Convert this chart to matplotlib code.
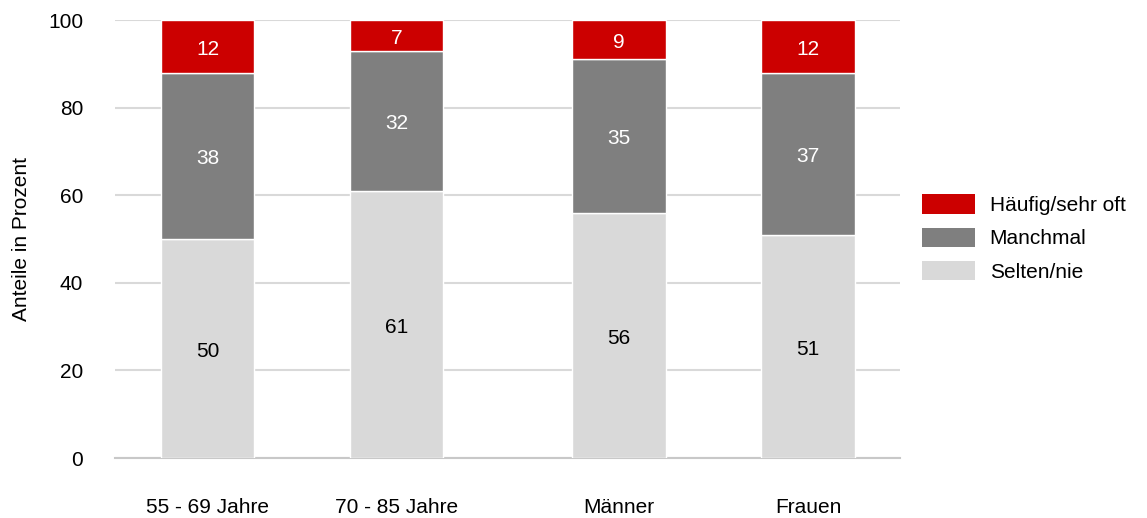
import matplotlib
matplotlib.use("Agg")
import matplotlib.pyplot as plt
from matplotlib.patches import Patch

plt.rcParams['font.family'] = ['Liberation Sans', 'DejaVu Sans']

categories = ["55 - 69 Jahre", "70 - 85 Jahre", "Männer", "Frauen"]
selten = [50, 61, 56, 51]
manchmal = [38, 32, 35, 37]
haeufig = [12, 7, 9, 12]
series_names = ["Häufig/sehr oft", "Manchmal", "Selten/nie"]
yticks = [0, 20, 40, 60, 80, 100]

positions = [0, 1, 2.18, 3.18]
col_sel = "#d9d9d9"
col_man = "#7f7f7f"
col_hae = "#cc0000"
fs = 15

fig = plt.figure(figsize=(11.47, 5.18), dpi=100)
ax = fig.add_axes([115/1147, 1-458/518, (900-115)/1147, (458-20)/518])

w = 0.495
bot2 = selten
bot3 = [a + b for a, b in zip(selten, manchmal)]
layers = [
    (selten, [0] * len(selten), col_sel, "black"),
    (manchmal, bot2, col_man, "white"),
    (haeufig, bot3, col_hae, "white"),
]
for vals, bottoms, col, tcol in layers:
    ax.bar(positions, vals, width=w, bottom=bottoms, color=col,
           edgecolor="white", linewidth=1, zorder=3)
    for x, v, b in zip(positions, vals, bottoms):
        ax.annotate(str(v), (x, b + v / 2), xytext=(0, -2), textcoords="offset points",
                    ha="center", va="center", color=tcol, fontsize=fs, zorder=4)

ax.set_xlim(-0.49, 3.18 + 0.487)
ax.set_ylim(0, 100)
ax.set_yticks(yticks)
ax.set_xticks(positions)
ax.set_xticklabels(categories)
ax.tick_params(axis="x", length=0, pad=29, labelsize=fs)
ax.tick_params(axis="y", length=0, pad=23, labelsize=fs)
ax.grid(axis="y", color="#d9d9d9", linewidth=1.5, zorder=0)
for s in ["top", "right", "left"]:
    ax.spines[s].set_visible(False)
ax.spines["bottom"].set_color("#c8c8c8")
ax.spines["bottom"].set_linewidth(1.5)
ax.set_ylabel("Anteile in Prozent", fontsize=fs, labelpad=12)

handles = [Patch(facecolor=col_hae, edgecolor="none"),
           Patch(facecolor=col_man, edgecolor="none"),
           Patch(facecolor=col_sel, edgecolor="none")]
fig.legend(handles, series_names, loc="center left", bbox_to_anchor=(922/1147, 1-238/518),
           frameon=False, fontsize=fs, handlelength=2.55, handleheight=1.05,
           labelspacing=0.6, handletextpad=0.7, borderpad=0, borderaxespad=0)

fig.savefig("out.png", dpi=100)
